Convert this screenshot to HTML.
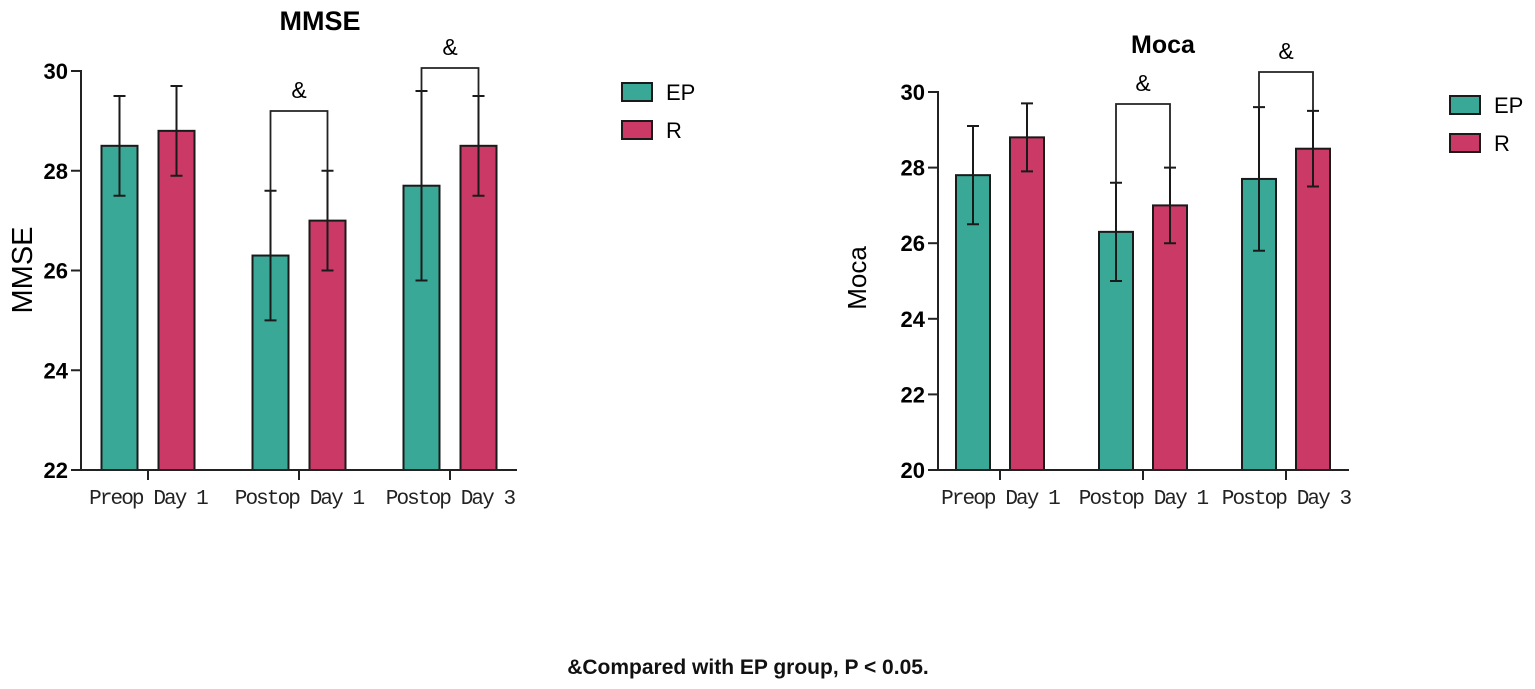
<!DOCTYPE html>
<html><head><meta charset="utf-8"><style>
body{margin:0;background:#fff}
svg{display:block}
text{font-family:"Liberation Sans",sans-serif}
.tk{font-weight:bold;font-size:22px}
.xl{font-family:"Liberation Mono",monospace;font-size:21px;letter-spacing:-1.9px;fill:#222}
</style></head><body>
<svg id="chart" width="1535" height="689" viewBox="0 0 1535 689"></svg>
<script>
const categories = ["Preop Day 1","Postop Day 1","Postop Day 3"];
const mmseEP = [28.5, 26.3, 27.7];
const mmseEPLow = [27.5, 25.0, 25.8];
const mmseEPHigh = [29.5, 27.6, 29.6];
const mmseR = [28.8, 27.0, 28.5];
const mmseRLow = [27.9, 26.0, 27.5];
const mmseRHigh = [29.7, 28.0, 29.5];
const mmseTicks = [22, 24, 26, 28, 30];
const mocaEP = [27.8, 26.3, 27.7];
const mocaEPLow = [26.5, 25.0, 25.8];
const mocaEPHigh = [29.1, 27.6, 29.6];
const mocaR = [28.8, 27.0, 28.5];
const mocaRLow = [27.9, 26.0, 27.5];
const mocaRHigh = [29.7, 28.0, 29.5];
const mocaTicks = [20, 22, 24, 26, 28, 30];
const sigGroups = [1, 2];
const legendLabels = ["EP", "R"];

const NS = "http://www.w3.org/2000/svg";
const svg = document.getElementById("chart");
const TEAL = "#3aa896", RED = "#cb3a66";
function el(tag, attrs, parent, txt){
  const e = document.createElementNS(NS, tag);
  for (const k in attrs) e.setAttribute(k, attrs[k]);
  if (txt !== undefined) e.textContent = txt;
  (parent || svg).appendChild(e);
  return e;
}

function drawChart(cfg){
  const g = el("g", {});
  
  
  const y = v => cfg.y0 + (v - cfg.vmin) / (cfg.vmax - cfg.vmin) * (cfg.y1 - cfg.y0);
  const xc = i => cfg.gx[0] + i * (cfg.gx[1] - cfg.gx[0]);
  const t = el("text", {x: cfg.titleX, y: cfg.titleY, "text-anchor": "middle", "font-size": cfg.titleSize, "font-weight": "bold"}, g, cfg.title);
  
  
  const yt = el("text", {transform: `translate(${cfg.ytX},${cfg.ytY}) rotate(-90)`, "text-anchor": "middle", "font-size": cfg.ytSize}, g, cfg.title);
  
  
  const series = [[cfg.ep, cfg.epLo, cfg.epHi, TEAL, -cfg.off, "ep"], [cfg.r, cfg.rLo, cfg.rHi, RED, cfg.off, "r"]];
  categories.forEach((c, i) => {
    series.forEach(s => {
      const cx = xc(i) + s[4];
      const b = el("rect", {x: cx - cfg.bw/2, y: y(s[0][i]), width: cfg.bw, height: y(cfg.vmin) - y(s[0][i]), fill: s[3], stroke: "#1a1a1a", "stroke-width": 2}, g);
      
      
      const eb = el("path", {d: `M${cx},${y(s[1][i])}V${y(s[2][i])}M${cx-6},${y(s[1][i])}H${cx+6}M${cx-6},${y(s[2][i])}H${cx+6}`, stroke: "#1a1a1a", "stroke-width": 2, fill: "none"}, g);
      
      
    });
    const xl = el("text", {x: xc(i), y: cfg.y0 + 34, "text-anchor": "middle", class: "xl"}, g, c);
    
    
    el("line", {x1: xc(i), x2: xc(i), y1: cfg.y0, y2: cfg.y0 + 10, stroke: "#222", "stroke-width": 2}, g);
  });
  const ax = el("path", {d: `M${cfg.ax},${cfg.y1 - 1}V${cfg.y0}H${cfg.axEnd}`, stroke: "#222", "stroke-width": 2, fill: "none"}, g);
  
  
  cfg.ticks.forEach(v => {
    el("line", {x1: cfg.ax - 10, x2: cfg.ax, y1: y(v), y2: y(v), stroke: "#222", "stroke-width": 2}, g);
    const tl = el("text", {x: cfg.ax - 13, y: y(v) + 8, "text-anchor": "end", class: "tk"}, g, v);
    
    
  });
  sigGroups.forEach((gi, k) => {
    const xa = xc(gi) - cfg.off, xb = xc(gi) + cfg.off;
    const by = cfg.brY[k];
    const br = el("path", {d: `M${xa},${y(cfg.epHi[gi])}V${by}H${xb}V${y(cfg.rHi[gi])}`, stroke: "#222", "stroke-width": 1.8, fill: "none"}, g);
    
    
    const am = el("text", {x: xc(gi), y: by - 13, "text-anchor": "middle", "font-size": 23}, g, "&");
    
    
  });
  legendLabels.forEach((lab, k) => {
    const ly = cfg.legY + k * 38;
    const sw = el("rect", {x: cfg.legX, y: ly, width: 30, height: 18, fill: k ? RED : TEAL, stroke: "#1a1a1a", "stroke-width": 2}, g);
    
    
    const lt = el("text", {x: cfg.legX + 44, y: ly + 17, "font-size": 22}, g, lab);
    
    
  });
}

drawChart({name: "mmse-chart", title: "MMSE", titleSize: 27, titleX: 320, titleY: 30, ytX: 32, ytY: 270, ytSize: 29,
  vmin: 22, vmax: 30, y0: 470, y1: 71, ax: 81, axEnd: 517, gx: [148, 299], off: 28.5, bw: 36,
  ep: mmseEP, epLo: mmseEPLow, epHi: mmseEPHigh, r: mmseR, rLo: mmseRLow, rHi: mmseRHigh,
  ticks: mmseTicks, brY: [111, 68], legX: 622, legY: 83});
drawChart({name: "moca-chart", title: "Moca", titleSize: 25, titleX: 1163, titleY: 53, ytX: 866, ytY: 278, ytSize: 26,
  vmin: 20, vmax: 30, y0: 470, y1: 92, ax: 938, axEnd: 1349, gx: [1000, 1143], off: 27, bw: 34,
  ep: mocaEP, epLo: mocaEPLow, epHi: mocaEPHigh, r: mocaR, rLo: mocaRLow, rHi: mocaRHigh,
  ticks: mocaTicks, brY: [104, 72], legX: 1450, legY: 96});

const fn = el("text", {x: 748, y: 674, "text-anchor": "middle", "font-size": 21, "font-weight": "bold", fill: "#111"}, svg, "&Compared with EP group, P < 0.05.");


</script>
</body></html>
